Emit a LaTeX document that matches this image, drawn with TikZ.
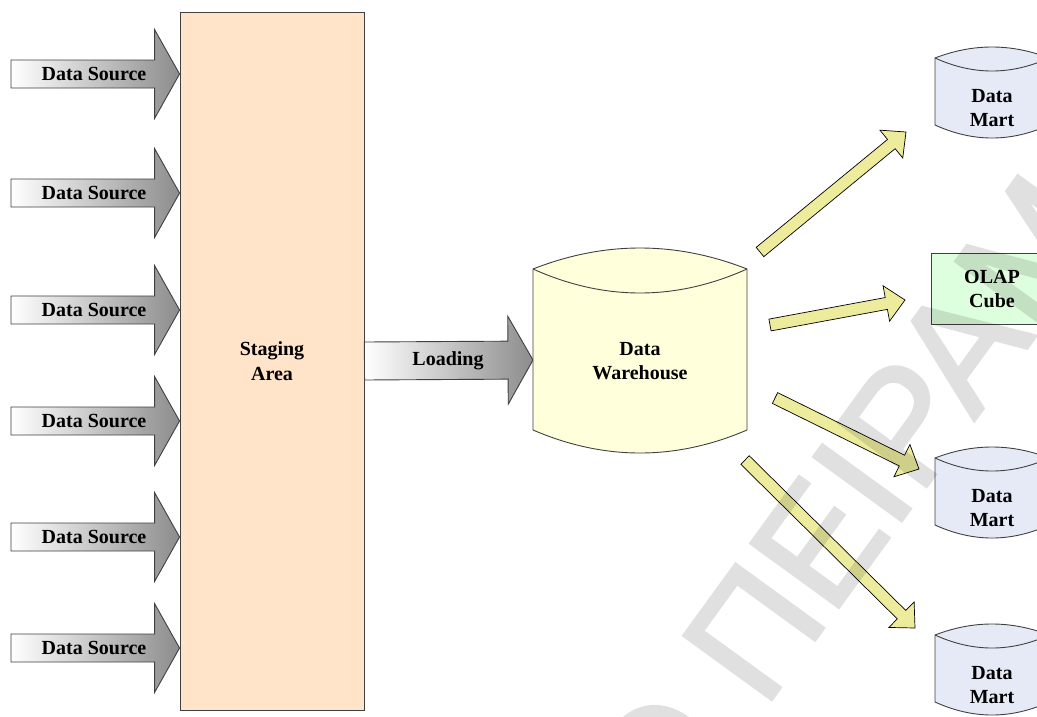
\documentclass[tikz,border=0pt]{standalone}
\usepackage{fontspec}
\setmainfont{Liberation Serif}
\newfontfamily\wmfont[FakeBold=2]{Liberation Sans}
\usetikzlibrary{calc}

\definecolor{stagefill}{HTML}{FFE4CA}
\definecolor{dwfill}{HTML}{FFFFDC}
\definecolor{martfill}{HTML}{E6EAF6}
\definecolor{olapfill}{HTML}{DEFFDE}
\definecolor{flowfill}{HTML}{ECEC9C}

% block arrow from #2 to #3: shaft half width #4, head half width #5, head length #6
\newcommand\blockarrow[6][]{%
  \path[#1] ($(#2)!#4!90:(#3)$) -- ($(#3)!#6!(#2)!#4!90:(#3)$)
    -- ($(#3)!#6!(#2)!#5!90:(#3)$) -- (#3)
    -- ($(#3)!#6!(#2)!#5!-90:(#3)$) -- ($(#3)!#6!(#2)!#4!-90:(#3)$)
    -- ($(#2)!#4!-90:(#3)$) -- cycle;}

% drum: left x, right x, top corner y, bottom corner y, top sag, inner sag, bottom sag
\newcommand\drum[8][]{%
  \filldraw[#1] (#2,#4) .. controls ({(2*#2+#3)/3},{#4-4*#6/3}) and ({(#2+2*#3)/3},{#4-4*#6/3}) .. (#3,#4)
    -- (#3,#5) .. controls ({(#2+2*#3)/3},{#5+4*#8/3}) and ({(2*#2+#3)/3},{#5+4*#8/3}) .. (#2,#5) -- cycle;
  \draw[#1] (#2,#4) .. controls ({(2*#2+#3)/3},{#4+4*#7/3}) and ({(#2+2*#3)/3},{#4+4*#7/3}) .. (#3,#4);}

\begin{document}
\begin{tikzpicture}[x=1pt, y=-1pt,
    lbl/.style={font=\bfseries\fontsize{20}{24.5}\selectfont, align=center, inner sep=0pt},
    srcarrow/.style={draw=black!75, line width=0.9pt, left color=white, right color=black!45},
    flowarrow/.style={draw=black, line width=0.7pt, fill=flowfill},
    box/.style={draw=black!75, line width=0.9pt}]
    \useasboundingbox (0,0) rectangle (1037,716);
    \clip (0,0) rectangle (1037,716);

    \node[box, lbl, fill=stagefill, minimum width=184pt, minimum height=698pt] (stage) at (272,361) {Staging\\Area};

    % sources
    \foreach \i/\y in {1/74, 2/193, 3/310, 4/421, 5/537, 6/648} {
        \coordinate (dsTail\i) at (11,\y);
        \coordinate (dsTip\i) at (stage.west |- dsTail\i);
        \blockarrow[srcarrow]{dsTail\i}{dsTip\i}{14pt}{44.5pt}{25pt}
        \node[lbl] (ds\i) at (94,\y) {Data Source};
    }

    % loading
    \coordinate (ldTip) at (533,360);
    \blockarrow[srcarrow]{stage.east}{ldTip}{19pt}{44pt}{25pt}
    \node[lbl] (load) at (448,361) {Loading};

    \drum[box, fill=dwfill]{533}{747}{269}{430}{21}{24}{23}
    \node[lbl] (dw) at (640,361) {Data\\Warehouse};

    \foreach \i/\y in {1/108, 2/508, 3/685} {
        \drum[box, fill=martfill]{935}{1049}{\y-50}{\y+17}{11}{13}{13}
        \node[lbl] (mart\i) at (992,\y) {Data\\Mart};
    }
    \node[box, lbl, fill=olapfill, minimum width=122pt, minimum height=71pt] (olap) at (992,289) {OLAP\\Cube};

    % outflows
    \coordinate (out1) at (760,252);  \coordinate (in1) at (906,132);
    \coordinate (out2) at (770,325);  \coordinate (in2) at (905,300);
    \coordinate (out3) at (775,398);  \coordinate (in3) at (919,469);
    \coordinate (out4) at (745,460);  \coordinate (in4) at (915,628);
    \foreach \i in {1,...,4} {
        \blockarrow[flowarrow]{out\i}{in\i}{6pt}{18pt}{19pt}
    }

    \begin{scope}[transparency group, opacity=0.12]
        \node[font=\wmfont\fontsize{158}{158}\selectfont, text=black,
            rotate=54, anchor=base west, inner sep=0pt] (wm) at (666,845) {Ο ΠΕΙΡΑΜΑ};
    \end{scope}
\end{tikzpicture}
\end{document}
